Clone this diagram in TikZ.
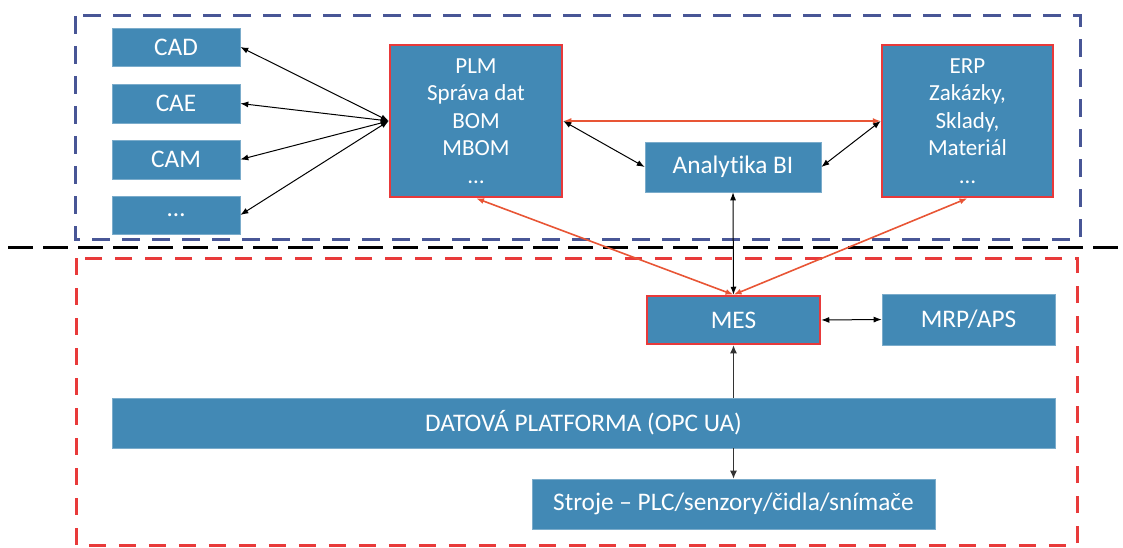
\documentclass[tikz,border=0pt]{standalone}
\usepackage{fontspec}
\setmainfont[Ligatures=NoCommon]{Carlito}
\usetikzlibrary{arrows.meta}
\definecolor{boxblue}{RGB}{66,137,181}
\definecolor{boxred}{RGB}{232,57,58}
\definecolor{dashblue}{RGB}{72,86,150}
\definecolor{dashred}{RGB}{232,58,58}
\definecolor{arrred}{RGB}{232,85,53}
\tikzset{
  box/.style={fill=boxblue, draw=boxblue!70!white, line width=0.6pt, text=white, inner sep=0pt, align=center, font=\fontsize{25.3}{29}\selectfont},
  redbox/.style={box, draw=boxred, line width=2.5pt},
  multi/.style={font=\fontsize{23}{27.5}\selectfont},
  blk/.style={draw=black, line width=1pt, {Latex[length=8pt,width=6pt]}-{Latex[length=8pt,width=6pt]}},
  blkone/.style={draw=black!80, line width=1.2pt, -{Latex[length=8pt,width=7pt]}},
  redarr/.style={draw=arrred, line width=1.6pt, {Latex[length=8pt,width=6pt]}-{Latex[length=8pt,width=6pt]}},
}
\begin{document}
\begin{tikzpicture}[x=1pt,y=-1pt]
\useasboundingbox (0,0) rectangle (1123,548);
% frames
\draw[dashblue, line width=3pt, dash pattern=on 18pt off 12pt] (75,16) rectangle (1080,239);
\draw[dashred, line width=3pt, dash pattern=on 17pt off 13pt] (76,258) rectangle (1077,545);
\coordinate (sepL) at (8,247);
\coordinate (sepR) at (1123,247);
\draw[black, line width=3pt, dash pattern=on 25pt off 10pt] (sepL) -- (sepR);
% nodes
\node[box, minimum width=128pt, minimum height=38pt] (cad) at (176,47) {CAD};
\node[box, minimum width=128pt, minimum height=39pt] (cae) at (176,103.5) {CAE};
\node[box, minimum width=128pt, minimum height=39pt] (cam) at (176,159.5) {CAM};
\node[box, minimum width=128pt, minimum height=38pt] (etc) at (176,215) {…};
\node[redbox, multi, minimum width=172pt, minimum height=152pt] (plm) at (476,121) {PLM\\Správa dat\\BOM\\MBOM\\…};
\node[redbox, multi, minimum width=171pt, minimum height=152pt] (erp) at (967.5,121) {ERP\\Zakázky,\\Sklady,\\Materiál\\…};
\node[box, minimum width=176pt, minimum height=50pt] (bi) at (733,167) {Analytika BI};
\node[redbox, minimum width=173pt, minimum height=48pt] (mes) at (733.5,320) {MES};
\node[box, minimum width=173pt, minimum height=51pt] (mrp) at (968.5,319.5) {MRP/APS};
\node[box, minimum width=943pt, minimum height=50pt] (dat) at (583.5,423) {DATOVÁ PLATFORMA (OPC UA)};
\node[box, minimum width=403pt, minimum height=50pt] (str) at (733.5,504) {Stroje – PLC/senzory/čidla/snímače};
% connectors
\draw[blk] (cad.east) -- (plm.west);
\draw[blk] (cae.east) -- (plm.west);
\draw[blk] (cam.east) -- (plm.west);
\draw[blk] (etc.east) -- (plm.west);
\draw[redarr] (plm.east) -- (erp.west);
\draw[blk] (plm.east) -- (bi.west);
\draw[blk] (erp.west) -- (bi.east);
\draw[redarr] (mes.north) -- (plm.south);
\draw[redarr] (mes.north) -- (erp.south);
\draw[blk] (bi.south) -- (mes.north);
\draw[blk] (mes.east) -- (mrp.west);
\draw[blkone] (dat.north -| mes.south) -- (mes.south);
\draw[blkone] (dat.south -| str.north) -- (str.north);
\end{tikzpicture}
\end{document}
